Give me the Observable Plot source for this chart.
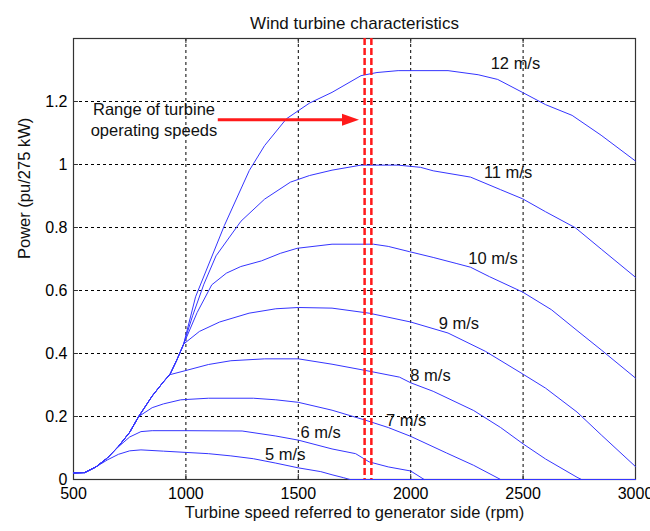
<!DOCTYPE html>
<html>
<head>
<meta charset="utf-8">
<script src="https://cdn.jsdelivr.net/npm/d3@7"></script>
<script src="https://cdn.jsdelivr.net/npm/@observablehq/plot@0.6"></script>
<style>
  html, body { margin: 0; padding: 0; background: #fff; }
  svg { display: block; }
</style>
</head>
<body>
<div id="chart"></div>
<script>
// ---- tick values / labels ----
const xTicks = [500, 1000, 1500, 2000, 2500, 3000];
const xTickLabels = ["500", "1000", "1500", "2000", "2500", "3000"];
const yTicks = [0, 0.2, 0.4, 0.6, 0.8, 1, 1.2];
const yTickLabels = ["0", "0.2", "0.4", "0.6", "0.8", "1", "1.2"];

// ---- series (speed rpm, power pu) ----
const s5x = [500, 550, 600, 650, 700, 750, 800, 900, 1000, 1100, 1200, 1300, 1400, 1500, 1600, 1650, 1700, 1730, 3000];
const s5y = [0.021, 0.022, 0.04, 0.062, 0.08, 0.091, 0.094, 0.09, 0.086, 0.082, 0.075, 0.066, 0.052, 0.037, 0.025, 0.015, 0.006, 0, 0];

const s6x = [500, 550, 600, 650, 700, 750, 800, 850, 1000, 1250, 1400, 1500, 1650, 1755, 1815, 1900, 2000, 2060, 3000];
const s6y = [0.021, 0.022, 0.04, 0.068, 0.104, 0.135, 0.152, 0.155, 0.155, 0.154, 0.138, 0.125, 0.097, 0.082, 0.056, 0.04, 0.027, 0, 0];

const s7x = [500, 550, 600, 650, 700, 750, 790, 850, 900, 977, 1100, 1300, 1400, 1500, 1650, 1800, 1900, 2000, 2160, 2280, 2400, 3000];
const s7y = [0.021, 0.022, 0.04, 0.068, 0.105, 0.15, 0.2, 0.228, 0.24, 0.253, 0.258, 0.258, 0.253, 0.245, 0.22, 0.188, 0.165, 0.137, 0.084, 0.045, 0, 0];

const s8x = [500, 550, 600, 650, 700, 750, 790, 850, 900, 930, 1000, 1100, 1200, 1350, 1500, 1650, 1800, 1950, 2000, 2100, 2280, 2400, 2500, 2600, 2740, 2760, 3000];
const s8y = [0.021, 0.022, 0.04, 0.068, 0.105, 0.15, 0.2, 0.265, 0.31, 0.333, 0.346, 0.365, 0.377, 0.383, 0.383, 0.366, 0.346, 0.325, 0.307, 0.28, 0.219, 0.165, 0.113, 0.065, 0.007, 0, 0];

const s9x = [500, 550, 600, 650, 700, 750, 790, 850, 900, 930, 960, 990, 1060, 1150, 1281, 1400, 1500, 1650, 1815, 2000, 2166, 2332, 2496, 2600, 2740, 2850, 3000];
const s9y = [0.021, 0.022, 0.04, 0.068, 0.105, 0.15, 0.2, 0.265, 0.31, 0.335, 0.38, 0.43, 0.47, 0.5, 0.528, 0.542, 0.546, 0.544, 0.528, 0.5, 0.465, 0.407, 0.336, 0.29, 0.214, 0.14, 0.041];

const s10x = [500, 550, 600, 650, 700, 750, 790, 850, 900, 930, 960, 990, 1050, 1115, 1180, 1244, 1336, 1420, 1495, 1650, 1834, 1900, 1996, 2100, 2202, 2266, 2350, 2498, 2626, 2740, 2850, 3000];
const s10y = [0.021, 0.022, 0.04, 0.068, 0.105, 0.15, 0.2, 0.265, 0.31, 0.335, 0.38, 0.43, 0.53, 0.618, 0.655, 0.676, 0.694, 0.718, 0.734, 0.747, 0.747, 0.74, 0.723, 0.705, 0.686, 0.674, 0.644, 0.595, 0.539, 0.473, 0.41, 0.322];

const s11x = [500, 550, 600, 650, 700, 750, 790, 850, 900, 930, 960, 990, 1030, 1080, 1134, 1245, 1350, 1465, 1550, 1650, 1779, 1944, 2044, 2100, 2266, 2400, 2498, 2600, 2733, 2850, 3000];
const s11y = [0.021, 0.022, 0.04, 0.068, 0.105, 0.15, 0.2, 0.265, 0.31, 0.335, 0.38, 0.43, 0.52, 0.62, 0.71, 0.82, 0.89, 0.944, 0.965, 0.982, 0.998, 0.998, 0.991, 0.98, 0.96, 0.92, 0.891, 0.85, 0.799, 0.73, 0.642];

const s12x = [500, 550, 600, 650, 700, 750, 790, 850, 900, 930, 960, 990, 1043, 1171, 1282, 1350, 1447, 1550, 1650, 1779, 1850, 1944, 2166, 2300, 2387, 2497, 2600, 2718, 2847, 3000];
const s12y = [0.021, 0.022, 0.04, 0.068, 0.105, 0.15, 0.2, 0.265, 0.31, 0.335, 0.38, 0.43, 0.58, 0.806, 0.981, 1.06, 1.145, 1.195, 1.229, 1.282, 1.292, 1.298, 1.298, 1.285, 1.27, 1.229, 1.19, 1.156, 1.093, 1.011];

const speedNames = ["5 m/s", "6 m/s", "7 m/s", "8 m/s", "9 m/s", "10 m/s", "11 m/s", "12 m/s"];
const seriesX = [s5x, s6x, s7x, s8x, s9x, s10x, s11x, s12x];
const seriesY = [s5y, s6y, s7y, s8y, s9y, s10y, s11y, s12y];

// curve label anchor positions (data units)
const labelX = [1442, 1599, 1980, 2088, 2214, 2366, 2433, 2466];
const labelY = [0.079, 0.148, 0.187, 0.330, 0.494, 0.70, 0.973, 1.321];

// operating speed range and annotation
const rangeSpeeds = [1795, 1825];
const annotLines = ["Range of turbine", "operating speeds"];
const annotX = [858, 858];
const annotY = [1.175, 1.108];
const arrowStart = 1144;
const arrowTip = 1770;
const arrowLevel = 1.142;

const titleText = "Wind turbine characteristics";
const xLabel = "Turbine speed referred to generator side (rpm)";
const yLabel = "Power (pu/275 kW)";

// ---- build tables ----
const rows = [];
seriesX.forEach((xs, i) => xs.forEach((x, j) => rows.push({speed: speedNames[i], x, y: seriesY[i][j]})));
const labels = speedNames.map((name, i) => ({name, x: labelX[i], y: labelY[i]}));
const annot = annotLines.map((t, i) => ({t, x: annotX[i], y: annotY[i]}));

const font = "'Liberation Sans', Arial, Helvetica, sans-serif";
const yTop = 1.4;

const arrowHead = {
  draw(ctx) {
    ctx.moveTo(0, 0);
    ctx.lineTo(-17, -6);
    ctx.lineTo(-17, 6);
    ctx.closePath();
  }
};

const chart = Plot.plot({
  width: 650,
  height: 531,
  marginLeft: 73,
  marginRight: 15,
  marginTop: 38,
  marginBottom: 52,
  style: {fontFamily: font, background: "#fff", color: "#000"},
  x: {domain: [500, 3000]},
  y: {domain: [0, yTop]},
  marks: [
    Plot.gridX(xTicks.slice(1, -1), {stroke: "#000", strokeOpacity: 1, strokeDasharray: "3,3", strokeWidth: 1}),
    Plot.gridY(yTicks.slice(1), {stroke: "#000", strokeOpacity: 1, strokeDasharray: "3,3", strokeWidth: 1}),
    Plot.frame({stroke: "#333", strokeWidth: 1.2}),
    // inner ticks (MATLAB style)
    Plot.ruleX(xTicks, {y1: 0, y2: 0.016, stroke: "#333"}),
    Plot.ruleX(xTicks, {y1: yTop, y2: yTop - 0.016, stroke: "#333"}),
    Plot.ruleY(yTicks, {x1: 500, x2: 522, stroke: "#333"}),
    Plot.ruleY(yTicks, {x1: 3000, x2: 2978, stroke: "#333"}),
    Plot.axisX(xTicks, {tickSize: 0, tickPadding: 8, fontSize: 16, tickFormat: (d, i) => xTickLabels[i], label: null}),
    Plot.axisY(yTicks, {tickSize: 0, tickPadding: 6, fontSize: 16, tickFormat: (d, i) => yTickLabels[i], label: null}),
    Plot.line(rows, {x: "x", y: "y", z: "speed", stroke: "#3535ff", strokeWidth: 1}),
    Plot.ruleX(rangeSpeeds, {stroke: "#ff1a1a", strokeWidth: 2.5, strokeDasharray: "7,3"}),
    Plot.ruleY([arrowLevel], {x1: arrowStart, x2: arrowTip - 40, stroke: "#ff1a1a", strokeWidth: 3}),
    Plot.dot([{x: arrowTip, y: arrowLevel}], {x: "x", y: "y", symbol: arrowHead, fill: "#ff1a1a", stroke: "none", r: 8}),
    Plot.text(labels, {x: "x", y: "y", text: "name", fontSize: 16.5, fill: "#111"}),
    Plot.text(annot, {x: "x", y: "y", text: "t", fontSize: 16.5, fill: "#111"}),
    Plot.text([titleText], {frameAnchor: "top", dy: -22, fontSize: 17, fill: "#111"}),
    Plot.text([xLabel], {frameAnchor: "bottom", dy: 38, fontSize: 16.5, fill: "#111"}),
    Plot.text([yLabel], {frameAnchor: "left", dx: -49, rotate: -90, fontSize: 16.5, fill: "#111"})
  ]
});
document.getElementById("chart").appendChild(chart);
</script>
</body>
</html>
